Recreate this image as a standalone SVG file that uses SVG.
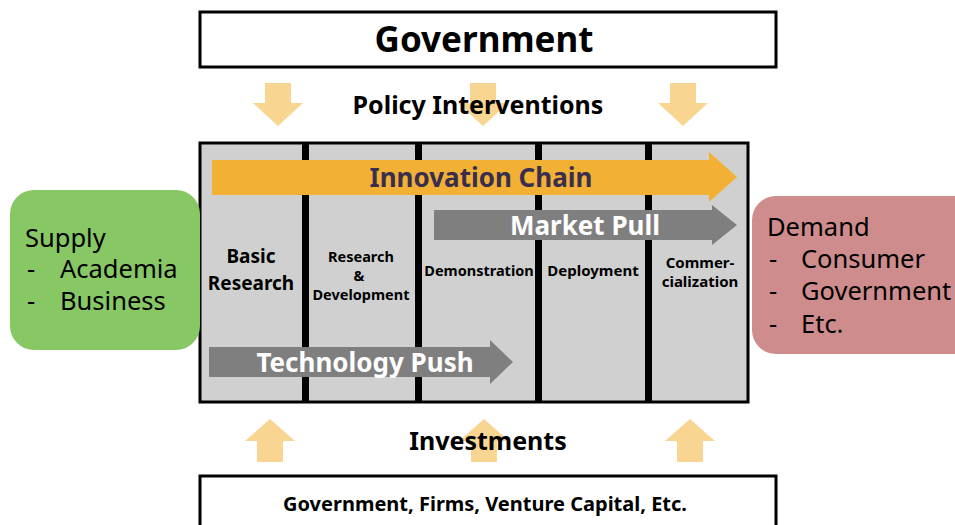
<svg xmlns="http://www.w3.org/2000/svg" width="955" height="525" viewBox="0 0 955 525">
  <style>
    .b { font-family: "Noto Sans", "Open Sans", "Liberation Sans", sans-serif; font-weight: bold; text-anchor: middle; }
    .r { font-family: "Noto Sans", "Open Sans", "Liberation Sans", sans-serif; }
    .frame { fill: #ffffff; stroke: #000000; stroke-width: 3; }
    .soft { fill: #F9D592; }
    .div { fill: #000000; }
  </style>
  <defs>
    <!-- pale orange block arrows, origin at top centre -->
    <path id="down" d="M-13,0 H13 V20 H25 L0,43 L-25,20 H-13 Z"/>
    <path id="up" d="M-13,43 H13 V22 H25 L0,0 L-25,22 H-13 Z"/>
  </defs>

  <!-- top: government -->
  <g id="government">
    <rect class="frame" x="200" y="12" width="576" height="55"/>
    <text class="b" x="484" y="52" font-size="35">Government</text>
  </g>

  <g id="policy">
    <use href="#down" class="soft" x="278" y="83"/>
    <use href="#down" class="soft" x="483" y="83"/>
    <use href="#down" class="soft" x="683" y="83"/>
    <text class="b" x="478" y="114" font-size="25">Policy Interventions</text>
  </g>

  <!-- innovation stages -->
  <g id="stages">
    <rect x="200" y="143" width="548" height="259" fill="#D0D0D0" stroke="#000" stroke-width="3"/>
    <rect class="div" x="302" y="143" width="7" height="259"/>
    <rect class="div" x="415" y="143" width="7" height="259"/>
    <rect class="div" x="535" y="143" width="7" height="259"/>
    <rect class="div" x="645" y="143" width="7" height="259"/>
    <text class="b" x="251" y="263" font-size="19">Basic</text>
    <text class="b" x="251" y="290" font-size="19">Research</text>
    <text class="b" x="361" y="262" font-size="14.5">Research</text>
    <text class="b" x="359" y="281" font-size="14.5">&amp;</text>
    <text class="b" x="361" y="300" font-size="14.5">Development</text>
    <text class="b" x="479" y="276" font-size="14.5">Demonstration</text>
    <text class="b" x="593" y="276" font-size="15">Deployment</text>
    <text class="b" x="700" y="268" font-size="15">Commer-</text>
    <text class="b" x="700" y="287" font-size="15">cialization</text>
  </g>

  <g id="connectors">
    <g id="innovation-chain">
      <path d="M212,160 H709 V152 L737,177 L709,202 V195 H212 Z" fill="#F2B134"/>
      <text class="b" x="481" y="187" font-size="26" fill="#3A2E4E">Innovation Chain</text>
    </g>
    <g id="market-pull">
      <path d="M434,210 H712 V205 L737,225 L712,245 V240 H434 Z" fill="#7F7F7F"/>
      <text class="b" x="585" y="235" font-size="26" fill="#ffffff">Market Pull</text>
    </g>
    <g id="technology-push">
      <path d="M209,347 H490 V340 L513,362 L490,384 V377 H209 Z" fill="#7F7F7F"/>
      <text class="b" x="365" y="372" font-size="26" fill="#ffffff">Technology Push</text>
    </g>
  </g>

  <!-- supply side -->
  <g id="supply">
    <rect x="10" y="190" width="190" height="160" rx="24" fill="#88C864"/>
    <text class="r" x="25" y="247" font-size="25.5">Supply</text>
    <text class="r" x="27" y="278" font-size="25.5">-</text>
    <text class="r" x="60" y="278" font-size="25.5">Academia</text>
    <text class="r" x="27" y="310" font-size="25.5">-</text>
    <text class="r" x="60" y="310" font-size="25.5">Business</text>
  </g>

  <!-- demand side -->
  <g id="demand">
    <rect x="752" y="196" width="230" height="158" rx="24" fill="#CE8C8C"/>
    <text class="r" x="767" y="236" font-size="25.5">Demand</text>
    <text class="r" x="769" y="268" font-size="25.5">-</text>
    <text class="r" x="801" y="268" font-size="25.5">Consumer</text>
    <text class="r" x="769" y="300" font-size="25.5">-</text>
    <text class="r" x="801" y="300" font-size="25.5">Government</text>
    <text class="r" x="769" y="333" font-size="25.5">-</text>
    <text class="r" x="801" y="333" font-size="25.5">Etc.</text>
  </g>

  <!-- bottom: investments -->
  <g id="investments">
    <use href="#up" class="soft" x="270" y="419"/>
    <use href="#up" class="soft" x="484" y="419"/>
    <use href="#up" class="soft" x="690" y="419"/>
    <text class="b" x="488" y="450" font-size="25">Investments</text>
  </g>

  <g id="investors">
    <rect class="frame" x="200" y="476" width="576" height="60"/>
    <text class="b" x="485" y="511" font-size="20">Government, Firms, Venture Capital, Etc.</text>
  </g>
</svg>
